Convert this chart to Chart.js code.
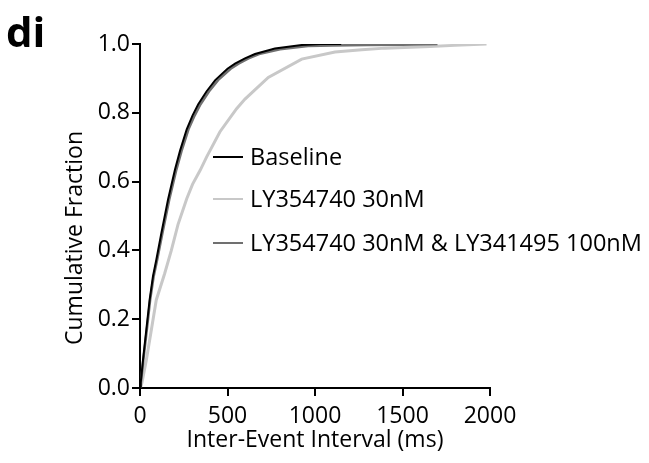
<!DOCTYPE html>
<html>
<head>
<meta charset="utf-8">
<script src="https://cdn.jsdelivr.net/npm/chart.js@4/dist/chart.umd.min.js"></script>
<style>
  html, body { margin: 0; padding: 0; background: #fff; }
  #wrap { position: relative; width: 649px; height: 463px; }
  canvas { display: block; }
</style>
</head>
<body>
<div id="wrap"><canvas id="c" width="649" height="463"></canvas></div>
<script>
// ---- data ----
const panelLabel = "di";
const xTitle = "Inter-Event Interval (ms)";
const yTitle = "Cumulative Fraction";
const seriesNames = ["Baseline", "LY354740 30nM", "LY354740 30nM & LY341495 100nM"];

const baselineX = [0, 4, 17, 36, 55, 74, 93, 122, 160, 200, 229, 267, 300, 333, 380, 430, 500, 543, 600, 657, 771, 924, 1030, 1150];
const baselineY = [0, 0.015, 0.081, 0.169, 0.256, 0.324, 0.372, 0.45, 0.547, 0.635, 0.69, 0.752, 0.792, 0.825, 0.862, 0.895, 0.928, 0.943, 0.958, 0.971, 0.987, 0.997, 1.0, 1.0];

const ly354X = [0, 11, 36, 65, 93, 141, 179, 217, 267, 300, 343, 381, 457, 552, 600, 733, 924, 1114, 1267, 1400, 1657, 1800, 1980];
const ly354Y = [0, 0.015, 0.081, 0.169, 0.256, 0.333, 0.40, 0.475, 0.55, 0.592, 0.632, 0.672, 0.745, 0.812, 0.84, 0.903, 0.956, 0.977, 0.983, 0.988, 0.993, 0.996, 1.0];

const comboX = [0, 5, 19, 39, 58, 78, 98, 128, 167, 208, 238, 277, 312, 346, 394, 446, 518, 563, 620, 680, 800, 960, 1100, 1300, 1500, 1700];
const comboY = [0, 0.015, 0.081, 0.169, 0.256, 0.324, 0.372, 0.45, 0.547, 0.635, 0.69, 0.752, 0.792, 0.825, 0.862, 0.895, 0.928, 0.943, 0.958, 0.971, 0.985, 0.994, 0.996, 0.997, 0.998, 1.0];

const xTicks = [0, 500, 1000, 1500, 2000];
const yTicks = [0.0, 0.2, 0.4, 0.6, 0.8, 1.0];

const colors = ["#000000", "#c8c8c8", "#707070"];

// ---- build ----
function pts(xs, ys) { return xs.map((x, i) => ({ x: x, y: ys[i] })); }

const FONT = "'Open Sans', 'DejaVu Sans', sans-serif";
const FS = 23;

const legendPlugin = {
  id: 'inlineLegend',
  afterDraw(chart) {
    const ctx = chart.ctx;
    const items = [
      { label: seriesNames[0], color: colors[0], y: 157 },
      { label: seriesNames[1], color: colors[1], y: 199 },
      { label: seriesNames[2], color: colors[2], y: 243 }
    ];
    ctx.save();
    ctx.font = "23.5px " + FONT;
    ctx.textBaseline = "middle";
    ctx.textAlign = "left";
    items.forEach(it => {
      ctx.strokeStyle = it.color;
      ctx.lineWidth = 2;
      ctx.beginPath();
      ctx.moveTo(213, it.y);
      ctx.lineTo(243, it.y);
      ctx.stroke();
      ctx.fillStyle = "#000";
      ctx.fillText(it.label, 250, it.y + 1);
    });
    // y-axis title
    ctx.font = FS + "px " + FONT;
    ctx.save();
    ctx.translate(75, 238);
    ctx.rotate(-Math.PI / 2);
    ctx.textAlign = "center";
    ctx.textBaseline = "middle";
    ctx.fillText(yTitle, 0, 0);
    ctx.restore();
    // panel label
    ctx.font = "bold 42px " + FONT;
    ctx.textBaseline = "alphabetic";
    ctx.textAlign = "left";
    ctx.fillText(panelLabel, 6, 47);
    ctx.restore();
  }
};

new Chart(document.getElementById('c'), {
  type: 'scatter',
  data: {
    datasets: [
      { label: seriesNames[1], data: pts(ly354X, ly354Y), borderColor: colors[1], borderWidth: 3, showLine: true, pointRadius: 0, tension: 0, order: 3 },
      { label: seriesNames[2], data: pts(comboX, comboY), borderColor: colors[2], borderWidth: 2.5, showLine: true, pointRadius: 0, tension: 0, order: 2 },
      { label: seriesNames[0], data: pts(baselineX, baselineY), borderColor: colors[0], borderWidth: 2, showLine: true, pointRadius: 0, tension: 0, order: 1 }
    ]
  },
  options: {
    responsive: false,
    animation: false,
    devicePixelRatio: 1,
    layout: { padding: { left: 0, right: 159, top: 44, bottom: 0 } },
    plugins: { legend: { display: false }, tooltip: { enabled: false } },
    scales: {
      x: {
        type: 'linear', min: 0, max: 2000,
        afterBuildTicks(s) { s.ticks = xTicks.map(v => ({ value: v })); },
        afterFit(s) { s.height = 75; },
        grid: { display: true, drawOnChartArea: false, drawTicks: true, tickLength: 8, color: '#000', lineWidth: 2 },
        border: { display: true, color: '#000', width: 2 },
        ticks: { color: '#000', font: { family: FONT, size: FS }, padding: 7, maxRotation: 0, callback: v => String(v) },
        title: { display: true, text: xTitle, color: '#000', font: { family: FONT, size: FS }, padding: { top: 0, bottom: 9 } }
      },
      y: {
        type: 'linear', min: 0, max: 1,
        afterBuildTicks(s) { s.ticks = yTicks.map(v => ({ value: v })); },
        afterFit(s) { s.width = 140; },
        grid: { display: true, drawOnChartArea: false, drawTicks: true, tickLength: 8, color: '#000', lineWidth: 2 },
        border: { display: true, color: '#000', width: 2 },
        ticks: { color: '#000', font: { family: FONT, size: FS }, padding: 2, callback: v => Number(v).toFixed(1) },
        title: { display: false }
      }
    }
  },
  plugins: [legendPlugin]
});
</script>
</body>
</html>
